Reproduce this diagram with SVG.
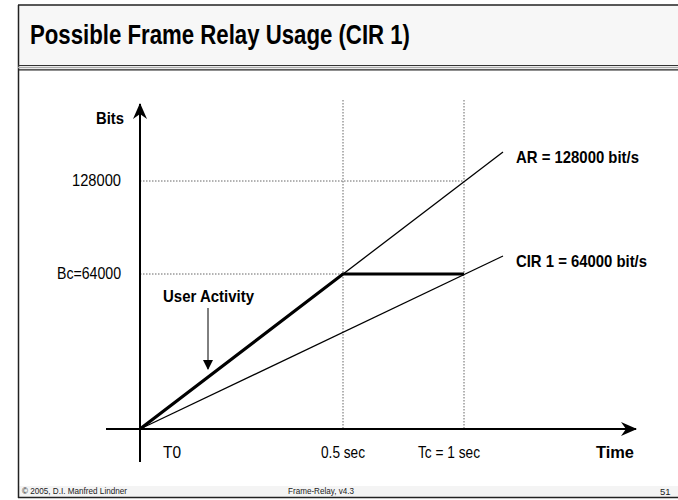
<svg xmlns="http://www.w3.org/2000/svg" width="678" height="500" viewBox="0 0 678 500">
<defs>
<marker id="ah" viewBox="0 0 10 10" refX="9" refY="5" markerWidth="10" markerHeight="10" markerUnits="userSpaceOnUse" orient="auto"><path d="M0,0 L10,5 L0,10 z" fill="#000"/></marker>
<marker id="axh" viewBox="0 0 16 14" refX="15" refY="7" markerWidth="16" markerHeight="14" markerUnits="userSpaceOnUse" orient="auto"><path d="M0,0 L16,7 L0,14 L5,7 z" fill="#000"/></marker>
<style>
.t{font-family:"Liberation Sans",Arial,sans-serif;fill:#000}
.lab{font-size:17px}
.b{font-weight:bold}
.dot{stroke:#666;stroke-width:1;stroke-dasharray:1.5 1.5;fill:none}
.ln{stroke:#000;stroke-width:1.3;fill:none}
.ft{font-size:9.5px;fill:#222}
</style>
</defs>
<rect x="0" y="0" width="678" height="500" fill="#fff"/>
<g id="frame">
<rect x="18" y="5" width="662" height="61" fill="#f7f7f7"/>
<rect x="18" y="486" width="662" height="11" fill="#f4f4f4"/>
<line x1="18" y1="5" x2="678" y2="5" stroke="#222" stroke-width="1.5"/>
<line x1="18.5" y1="5" x2="18.5" y2="498" stroke="#222" stroke-width="1.5"/>
<line x1="18" y1="65.5" x2="678" y2="65.5" stroke="#333" stroke-width="1.2"/>
<line x1="18" y1="67.5" x2="678" y2="67.5" stroke="#aaa" stroke-width="1.5"/>
<line x1="18" y1="69.8" x2="678" y2="69.8" stroke="#222" stroke-width="1.2"/>
<line x1="18" y1="497.5" x2="678" y2="497.5" stroke="#222" stroke-width="1.5"/>
<text class="t b" x="30" y="44" font-size="27" textLength="380" lengthAdjust="spacingAndGlyphs">Possible Frame Relay Usage (CIR 1)</text>
<text class="t ft" x="22" y="494" textLength="105" lengthAdjust="spacingAndGlyphs">© 2005, D.I. Manfred Lindner</text>
<text class="t ft" x="288" y="494" textLength="66" lengthAdjust="spacingAndGlyphs">Frame-Relay, v4.3</text>
<text class="t ft" x="660" y="495" font-size="11">51</text>
</g>
<g id="grid">
<line class="dot" x1="140" y1="181" x2="464" y2="181"/>
<line class="dot" x1="140" y1="274" x2="464" y2="274"/>
<line class="dot" x1="343" y1="100" x2="343" y2="429"/>
<line class="dot" x1="464" y1="100" x2="464" y2="429"/>
</g>
<g id="axes">
<line x1="140" y1="462" x2="140" y2="104" stroke="#000" stroke-width="2" marker-end="url(#axh)"/>
<line x1="106" y1="429" x2="636" y2="429" stroke="#000" stroke-width="2" marker-end="url(#axh)"/>
</g>
<g id="connectors">
<line class="ln" x1="140" y1="429" x2="503" y2="152"/>
<line class="ln" x1="140" y1="429" x2="503" y2="256"/>
<polyline points="140,429 343,274 464,274" fill="none" stroke="#000" stroke-width="3.2" stroke-linejoin="miter"/>
<line x1="208" y1="308" x2="208" y2="369" stroke="#000" stroke-width="1" marker-end="url(#ah)"/>
</g>
<g id="labels">
<text class="t lab b" x="96" y="124" textLength="28" lengthAdjust="spacingAndGlyphs">Bits</text>
<text class="t lab" x="72" y="186" textLength="49" lengthAdjust="spacingAndGlyphs">128000</text>
<text class="t lab" x="57" y="279" textLength="64" lengthAdjust="spacingAndGlyphs">Bc=64000</text>
<text class="t lab b" x="163" y="302" textLength="91" lengthAdjust="spacingAndGlyphs">User Activity</text>
<text class="t lab b" x="516" y="163" textLength="123" lengthAdjust="spacingAndGlyphs">AR = 128000 bit/s</text>
<text class="t lab b" x="516" y="267" textLength="131" lengthAdjust="spacingAndGlyphs">CIR 1 = 64000 bit/s</text>
<text class="t lab" x="163" y="458" textLength="18" lengthAdjust="spacingAndGlyphs">T0</text>
<text class="t lab" x="321" y="458" textLength="44" lengthAdjust="spacingAndGlyphs">0.5 sec</text>
<text class="t lab" x="418" y="458" textLength="62" lengthAdjust="spacingAndGlyphs">Tc = 1 sec</text>
<text class="t lab b" x="596" y="458" textLength="38" lengthAdjust="spacingAndGlyphs">Time</text>
</g>
</svg>
